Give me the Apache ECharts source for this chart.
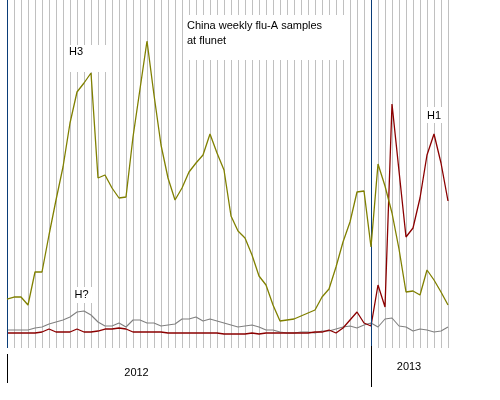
<!DOCTYPE html>
<html>
<head>
<meta charset="utf-8">
<script src="https://cdn.jsdelivr.net/npm/echarts@6/dist/echarts.min.js"></script>
<style>
  html, body { margin: 0; padding: 0; background: #fff; }
  #chart { width: 500px; height: 400px; }
</style>
</head>
<body>
<div id="chart"></div>
<script>
// weekly samples, 2012 W01 .. 2013 W12
const weeks = [];
for (let w = 1; w <= 52; w++) weeks.push('2012-W' + String(w).padStart(2, '0'));
for (let w = 1; w <= 12; w++) weeks.push('2013-W' + String(w).padStart(2, '0'));

const h3 = [49, 51, 51, 43, 76, 76, 113, 148, 181, 225, 256, 265, 275, 170, 173, 160,
  150, 151, 211, 259, 307, 253, 203, 170, 148, 160, 176, 185, 193, 214, 195, 178,
  132, 117, 110, 93, 72, 63, 43, 27, 28, 29, 32, 35, 38, 51, 59, 81,
  106, 126, 156, 157, 101, 184, 162, 135, 99, 56, 57, 53, 78, 68, 56, 43];

const h1 = [15, 15, 15, 15, 15, 16, 19, 16, 16, 16, 19, 16, 16, 17, 19, 19,
  20, 19, 16, 16, 16, 16, 16, 15, 15, 15, 15, 15, 15, 15, 15, 14,
  14, 14, 14, 15, 14, 15, 15, 15, 15, 15, 15, 15, 16, 16, 18, 15,
  20, 28, 36, 25, 22, 63, 41, 244, 177, 111, 120, 150, 193, 214, 185, 147];

const hUnknown = [18, 18, 18, 18, 20, 21, 24, 26, 28, 31, 36, 37, 33, 26, 22, 22,
  25, 21, 28, 28, 25, 25, 22, 23, 24, 29, 29, 31, 27, 29, 27, 25,
  23, 21, 22, 23, 21, 18, 18, 16, 15, 15, 16, 16, 15, 17, 17, 19,
  21, 22, 20, 23, 25, 21, 29, 30, 22, 21, 17, 19, 18, 16, 17, 21];

// year boundaries (index into weeks) and labels
const yearStarts = [0, 52];
const yearLabels = ['2012', '2013'];

const font = '11px Liberation Sans, Arial, sans-serif';

// white box with a text on it, drawn above the grid lines
function boxRect(x, y, w, h) {
  return { type: 'rect', z: 100, shape: { x, y, width: w, height: h }, style: { fill: '#fff' } };
}
function boxText(x, y, text, align) {
  return { type: 'text', z: 101, style: { x, y, text, fill: '#000', font, align: align || 'left', verticalAlign: 'middle' } };
}

const chart = echarts.init(document.getElementById('chart'));
chart.setOption({
  animation: false,
  backgroundColor: '#fff',
  grid: [
    { left: 7, right: 52, top: 0, bottom: 52 },
    { left: 7, right: 52, top: 346, bottom: 13 },
  ],
  xAxis: [
    {
      type: 'category', data: weeks, boundaryGap: false, gridIndex: 0,
      axisLine: { show: false }, axisTick: { show: false }, axisLabel: { show: false },
      splitLine: { show: true, interval: 0, lineStyle: { color: '#c0c0c0', width: 1 } },
    },
    {
      type: 'category', data: weeks, boundaryGap: false, gridIndex: 1, show: false,
    },
  ],
  yAxis: [
    { type: 'value', min: 0, max: 348, gridIndex: 0, show: false, splitLine: { show: false } },
    { type: 'value', min: 0, max: 41, gridIndex: 1, show: false, splitLine: { show: false } },
  ],
  graphic: [
    boxRect(183, 15, 164, 45),
    boxText(187, 26, 'China weekly flu-A samples'),
    boxText(187, 40.5, 'at flunet'),
    boxRect(65, 45, 42, 27),
    boxText(69, 52, 'H3'),
    boxRect(425, 107, 17, 16),
    boxText(427, 115.5, 'H1'),
    boxRect(71, 287, 21, 16),
    boxText(74.5, 295, 'H?'),
    boxText(136.5, 372.5, yearLabels[0], 'center'),
    boxText(409, 366.5, yearLabels[1], 'center'),
  ],
  series: [
    {
      name: 'H?', type: 'line', data: hUnknown, symbol: 'none',
      lineStyle: { color: '#808080', width: 1.1 }, z: 3,
    },
    {
      name: 'H1', type: 'line', data: h1, symbol: 'none',
      lineStyle: { color: '#8b0000', width: 1.3 }, z: 4,
    },
    {
      name: 'H3', type: 'line', data: h3, symbol: 'none',
      lineStyle: { color: '#808000', width: 1.3 }, z: 5,
      markLine: {
        silent: true, symbol: ['none', 'none'], label: { show: false },
        lineStyle: { color: '#0a3d78', width: 1, type: 'solid' },
        data: yearStarts.map(i => ({ xAxis: i })),
      },
    },
    {
      // year ticks below the plot
      type: 'line', xAxisIndex: 1, yAxisIndex: 1, data: [], symbol: 'none',
      markLine: {
        silent: true, symbol: ['none', 'none'], label: { show: false },
        lineStyle: { color: '#000', width: 1, type: 'solid' },
        data: [
          [{ coord: [yearStarts[0], 33] }, { coord: [yearStarts[0], 4] }],
          [{ coord: [yearStarts[1], 41] }, { coord: [yearStarts[1], 0] }],
        ],
      },
    },
  ],
});
</script>
</body>
</html>
